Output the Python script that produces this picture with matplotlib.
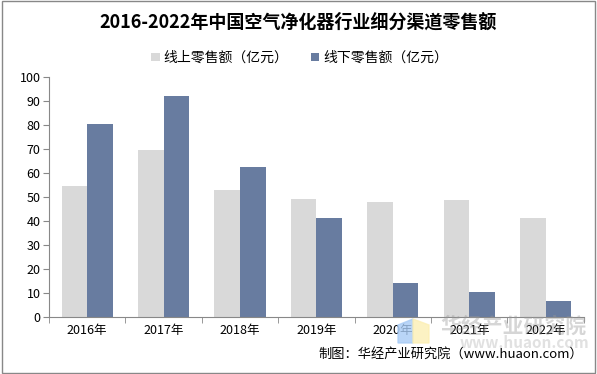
import matplotlib.pyplot as plt
import numpy as np
from matplotlib.patches import Polygon, Rectangle

plt.rcParams['font.family'] = ['Noto Sans CJK SC', 'DejaVu Sans']

years = ['2016年', '2017年', '2018年', '2019年', '2020年', '2021年', '2022年']
online = [54.7, 69.7, 52.9, 49.2, 47.9, 48.8, 41.3]
offline = [80.5, 92.2, 62.5, 41.3, 14.2, 10.4, 6.7]

fig = plt.figure(figsize=(5.97, 3.74), dpi=100)
ax = fig.add_axes([0.082, 0.1524, 0.896, 0.642])

x = np.arange(len(years))
w = 0.335
ax.bar(x - w / 2, online, w, color='#D9D9D9', label='线上零售额（亿元）')
ax.bar(x + w / 2, offline, w, color='#687CA0', label='线下零售额（亿元）')

ax.set_xlim(-0.5, len(years) - 0.5)
ax.set_ylim(0, 100)
ax.set_yticks(range(0, 101, 10))
ax.tick_params(axis='y', labelsize=9, length=4, color='#888888', pad=2)
ax.set_xticks(x)
ax.set_xticklabels(years, fontsize=9)
ax.tick_params(axis='x', length=0, pad=5)
ax.set_xticks(np.arange(-0.5, len(years)), minor=True)
ax.tick_params(axis='x', which='minor', length=4, color='#888888')
for s in ['top', 'right']:
    ax.spines[s].set_visible(False)
for s in ['left', 'bottom']:
    ax.spines[s].set_color('#888888')

fig.text(0.5, 0.94, '2016-2022年中国空气净化器行业细分渠道零售额', ha='center', va='center',
         fontsize=13, fontweight='bold')
fig.legend(loc='center', bbox_to_anchor=(0.502, 0.845), ncol=2, frameon=False, fontsize=10,
           handlelength=0.6, handleheight=0.6, columnspacing=1.6, handletextpad=0.3)

# watermark
fig.patches.append(Polygon([[398 / 597, 1 - 325 / 374], [413 / 597, 1 - 319 / 374],
                            [413 / 597, 1 - 343 / 374], [398 / 597, 1 - 343 / 374]],
                           closed=True, transform=fig.transFigure, color='#A8CBF5', alpha=0.8))
fig.patches.append(Polygon([[413 / 597, 1 - 319 / 374], [429 / 597, 1 - 325 / 374],
                            [429 / 597, 1 - 343 / 374], [413 / 597, 1 - 343 / 374]],
                           closed=True, transform=fig.transFigure, color='#FCEFB4', alpha=0.8))
fig.text(0.738, 1 - 326 / 374, '华经产业研究院', fontsize=15, fontweight='bold', color='#999999',
         alpha=0.4, va='center', ha='left')
fig.text(0.77, 1 - 343 / 374, 'www.huaon.com', fontsize=11, fontweight='bold', color='#aaaaaa',
         alpha=0.35, va='center', ha='left')

fig.text(0.977, 1 - 354 / 374, '制图：华经产业研究院（www.huaon.com）', fontsize=9.5,
         ha='right', va='center')

fig.patches.append(Rectangle((0.003, 0.004), 0.994, 0.992, transform=fig.transFigure,
                             fill=False, edgecolor='#888888', lw=1))

fig.savefig('out.png', dpi=100)
